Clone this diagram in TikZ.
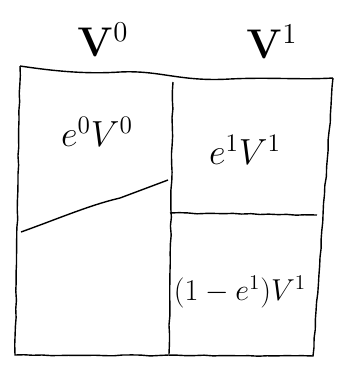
\documentclass[tikz,border=0pt]{standalone}
\usetikzlibrary{decorations.pathmorphing}
\begin{document}
\begin{tikzpicture}[x=1pt, y=-1pt, line width=1.4pt,
    wobbly/.style={decorate, decoration={random steps, segment length=9pt, amplitude=0.5pt}},
    head/.style={font=\LARGE, scale=2.4},
    vol/.style={font=\LARGE, scale=2.1},
    share/.style={font=\LARGE, scale=1.75}]
  \useasboundingbox (0,0) rectangle (343,375);
  % corners of the sketch
  \coordinate (tl) at (20,66);
  \coordinate (tr) at (333,78);
  \coordinate (bl) at (15,355);
  \coordinate (br) at (313,356);
  \coordinate (mt) at (173,82);
  \coordinate (mb) at (169,354);
  % wavy top
  \draw (tl) .. controls (60,72) and (90,74) .. (120,72)
    .. controls (160,70) and (180,82) .. (230,79)
    .. controls (270,77) and (300,80) .. (tr);
  \draw[wobbly] (tl) -- (bl) -- (br) -- (tr);
  \draw[wobbly] (mt) -- (mb);
  % split of the right column
  \draw[wobbly] (170,213) -- (317,215);
  % sloped line in the left column
  \draw (21,232) .. controls (60,218) and (90,205) .. (120,198) -- (168,180);
  % labels
  \node[head] (v0) at (103,40) {$\mathbf{V}^{0}$};
  \node[head] (v1) at (272,42) {$\mathbf{V}^{1}$};
  \node[vol] (a0) at (97,132) {$e^{0}V^{0}$};
  \node[vol] (a1) at (245,150) {$e^{1}V^{1}$};
  \node[share] (b1) at (240,292) {$(1-e^{1})V^{1}$};
\end{tikzpicture}
\end{document}
